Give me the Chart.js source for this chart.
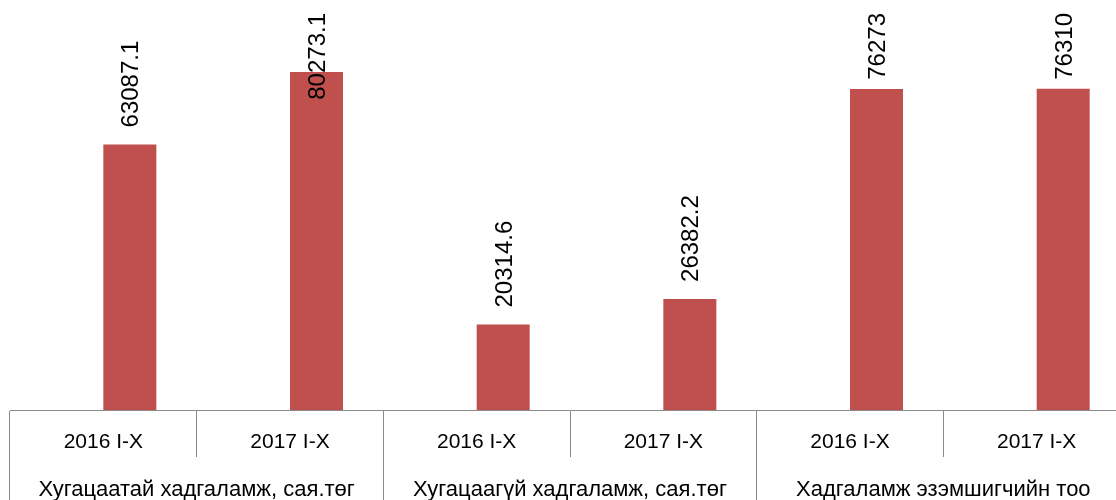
<!DOCTYPE html>
<html>
<head>
<meta charset="utf-8">
<script src="https://cdn.jsdelivr.net/npm/chart.js@4/dist/chart.umd.min.js"></script>
<style>
  html, body { margin: 0; padding: 0; background: #fff; overflow: hidden; }
  #wrap { width: 1140px; height: 500px; position: relative; }
</style>
</head>
<body>
<div id="wrap"><canvas id="chart"></canvas></div>
<script>
  const periods = ["2016 I-X", "2017 I-X", "2016 I-X", "2017 I-X", "2016 I-X", "2017 I-X"];
  const groups = ["Хугацаатай хадгаламж, сая.төг", "Хугацаагүй хадгаламж, сая.төг", "Хадгаламж эзэмшигчийн тоо"];
  const values = [63087.1, 80273.1, 20314.6, 26382.2, 76273, 76310];
  const valueLabels = ["63087.1", "80273.1", "20314.6", "26382.2", "76273", "76310"];
  // Excel chart had an empty first series, the bars sit in the second slot
  const emptySeries = [null, null, null, null, null, null];

  const lineColor = "#8a8a8a";
  const barColor = "#c0504d";
  const fontFamily = "'Liberation Sans', Arial, sans-serif";

  const barLabels = {
    id: "barLabels",
    afterDatasetsDraw(chart) {
      const ctx = chart.ctx;
      const meta = chart.getDatasetMeta(1);
      ctx.save();
      ctx.font = "24px " + fontFamily;
      ctx.fillStyle = "#000";
      ctx.textAlign = "left";
      ctx.textBaseline = "middle";
      meta.data.forEach((bar, i) => {
        const text = valueLabels[i];
        const w = ctx.measureText(text).width;
        const start = Math.max(bar.y - 17, chart.chartArea.top + 13 + w);
        ctx.save();
        ctx.translate(bar.x + 2, start);
        ctx.rotate(-Math.PI / 2);
        ctx.fillText(text, 0, 0);
        ctx.restore();
      });
      ctx.restore();
    },
  };

  new Chart(document.getElementById("chart"), {
    type: "bar",
    data: {
      labels: periods,
      datasets: [
        { data: emptySeries, backgroundColor: barColor },
        { data: values, backgroundColor: barColor },
      ],
    },
    options: {
      responsive: true,
      maintainAspectRatio: false,
      animation: false,
      layout: { padding: { left: 10, right: 10, top: 0, bottom: 0 } },
      plugins: {
        legend: { display: false },
        tooltip: { enabled: false },
      },
      datasets: {
        bar: { categoryPercentage: 0.568, barPercentage: 1 },
      },
      scales: {
        y: { display: false, min: 0, max: 97400 },
        x: {
          offset: true,
          grid: {
            offset: true,
            drawOnChartArea: false,
            drawTicks: true,
            tickLength: 47,
            color: lineColor,
            lineWidth: 1,
          },
          border: { display: true, color: lineColor, width: 1 },
          ticks: {
            autoSkip: false,
            maxRotation: 0,
            padding: -27,
            color: "#000",
            font: { family: fontFamily, size: 21 },
          },
          afterFit: (scale) => { scale.height = 47; },
        },
        x2: {
          type: "category",
          position: "bottom",
          weight: 1,
          labels: groups,
          offset: true,
          grid: {
            offset: true,
            drawOnChartArea: false,
            drawTicks: true,
            tickLength: 43,
            color: lineColor,
            lineWidth: 1,
          },
          border: { display: false },
          ticks: {
            autoSkip: false,
            maxRotation: 0,
            padding: -23,
            color: "#000",
            font: { family: fontFamily, size: 22 },
          },
          afterFit: (scale) => { scale.height = 43; },
        },
      },
    },
    plugins: [barLabels],
  });
</script>
</body>
</html>
